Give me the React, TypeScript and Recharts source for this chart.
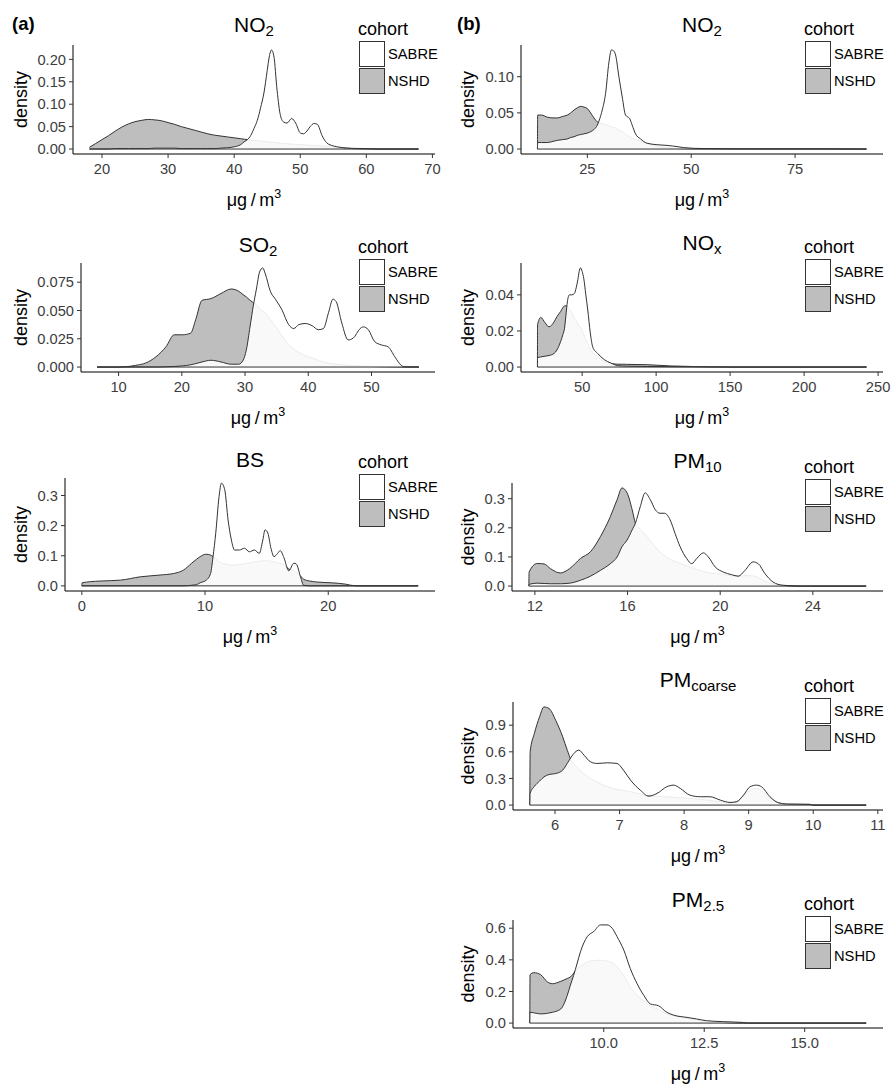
import React from 'react';
import { ComposedChart, Area, XAxis, YAxis, ReferenceLine } from 'recharts';

// ---------- (a) NO2 ----------
const no2aX = [18.1, 19, 20, 21, 22, 23, 24, 25, 26, 27, 28, 29, 30, 31, 32, 33, 34, 35, 36, 37, 38, 39, 40, 41,
  41.5, 42, 42.5, 43, 43.5, 44, 44.5, 45, 45.3, 45.65, 46, 46.5, 47, 47.5, 48,
  48.7, 49.3, 50, 50.5, 51, 51.5, 52.1, 52.6, 53.3, 54, 55, 56, 57, 58, 60, 62, 65, 67.9];
const no2aNSHD = [0.004, 0.012, 0.021, 0.030, 0.040, 0.049, 0.056, 0.061, 0.064, 0.066, 0.065, 0.063, 0.059, 0.055, 0.050, 0.046, 0.042, 0.038, 0.034, 0.031, 0.029, 0.027, 0.025, 0.023,
  0.022, 0.021, 0.020, 0.019, 0.0185, 0.018, 0.017, 0.016, 0.0157, 0.0153, 0.015, 0.014, 0.013, 0.0125, 0.012,
  0.011, 0.0105, 0.010, 0.0095, 0.009, 0.0085, 0.008, 0.0075, 0.007, 0.006, 0.0045, 0.003, 0.002, 0.001, 0.0003, 0, 0, 0];
const no2aSABRE = [0, 0, 0, 0, 0.001, 0.001, 0.001, 0.001, 0.001, 0.001, 0.002, 0.002, 0.002, 0.002, 0.001, 0.001, 0.001, 0.001, 0.001, 0.001, 0.002, 0.003, 0.005, 0.010,
  0.016, 0.021, 0.030, 0.046, 0.064, 0.092, 0.125, 0.175, 0.205, 0.221, 0.208, 0.130, 0.075, 0.060, 0.058,
  0.068, 0.058, 0.036, 0.034, 0.040, 0.050, 0.057, 0.055, 0.030, 0.014, 0.007, 0.004, 0.002, 0.0015, 0.001, 0, 0, 0];

// ---------- (b) NO2 ----------
const no2bX = [13.0, 13.05, 14, 15.4, 17, 17.8, 19, 20.2, 21, 21.8, 22.6, 23.4, 24.2, 25, 25.8, 26.6, 27.4, 28, 28.6, 29.4,
  30.2, 30.8, 31.3, 31.8, 32.6, 33.4, 34.2, 35.2, 35.8, 36.6, 37.8, 39.4, 41.8, 44.2, 45.8, 48.2, 50.6, 55, 60, 70, 80, 92.2];
const no2bNSHD = [0, 0.047, 0.047, 0.044, 0.043, 0.043, 0.045, 0.047, 0.050, 0.054, 0.057, 0.059, 0.058, 0.056, 0.050, 0.043, 0.0375, 0.036, 0.035, 0.034,
  0.032, 0.031, 0.030, 0.029, 0.026, 0.024, 0.020, 0.017, 0.015, 0.013, 0.011, 0.007, 0.004, 0.002, 0.001, 0.0005, 0.0003, 0.0003, 0.0002, 0.0002, 0.0002, 0];
const no2bSABRE = [0, 0.009, 0.009, 0.009, 0.011, 0.012, 0.013, 0.014, 0.016, 0.017, 0.019, 0.020, 0.021, 0.022, 0.024, 0.027, 0.033, 0.042, 0.054, 0.077,
  0.120, 0.137, 0.136, 0.130, 0.100, 0.072, 0.047, 0.042, 0.033, 0.021, 0.014, 0.008, 0.006, 0.005, 0.004, 0.002, 0.001, 0.0005, 0.0003, 0.0002, 0.0002, 0];

// ---------- (a) SO2 ----------
const so2X = [6.6, 10, 11.2, 12.7, 14.3, 15.9, 17.5, 18.8, 20.1, 21.4, 22.2, 23.2, 24.6, 26.2, 27.8, 29.0, 29.7, 30.2, 30.8, 31.3,
  31.8, 32.3, 32.8, 33.2, 34.0, 34.8, 35.8, 36.9, 37.7, 38.5, 39.5, 40.6, 41.6, 42.4, 43.2, 43.9, 44.4, 45.3, 46.3, 47.1,
  48.2, 48.7, 49.5, 50.5, 51.6, 52.6, 53.7, 54.7, 55.2, 57.5];
const so2NSHD = [0, 0, 0.0003, 0.0015, 0.0036, 0.009, 0.018, 0.0285, 0.0285, 0.030, 0.042, 0.059, 0.0605, 0.065, 0.069, 0.067, 0.064, 0.062, 0.059, 0.057,
  0.055, 0.052, 0.049, 0.048, 0.042, 0.036, 0.028, 0.020, 0.016, 0.013, 0.010, 0.008, 0.006, 0.0045, 0.0035, 0.003, 0.0025, 0.002, 0.0015, 0.0012,
  0.0009, 0.0008, 0.0006, 0.0004, 0.0003, 0.0002, 0.0001, 0, 0, 0];
const so2SABRE = [0, 0, 0, 0, 0, 0, 0.0002, 0.0005, 0.001, 0.002, 0.003, 0.0045, 0.006, 0.0045, 0.0025, 0.0025, 0.006, 0.015, 0.036, 0.054,
  0.069, 0.084, 0.0876, 0.0825, 0.067, 0.060, 0.051, 0.0375, 0.034, 0.0375, 0.0385, 0.0366, 0.033, 0.034, 0.048, 0.060, 0.058, 0.039, 0.024, 0.0255,
  0.034, 0.0355, 0.033, 0.0225, 0.0195, 0.018, 0.009, 0.0015, 0.0002, 0];

// ---------- (b) NOx ----------
const noxX = [19.8, 19.85, 22.0, 25, 27.6, 31.0, 33, 35.4, 37, 38.1, 39.2, 40, 41.4, 43, 44.8, 46, 47.1, 48.0, 48.9, 50,
  51.1, 52.5, 53.8, 55.5, 57.2, 60.5, 65, 69.4, 74, 80, 94, 110, 125, 150, 200, 242.2];
const noxNSHD = [0, 0.0233, 0.0275, 0.0245, 0.0223, 0.025, 0.028, 0.0307, 0.033, 0.0339, 0.0339, 0.0335, 0.032, 0.030, 0.027, 0.0255, 0.024, 0.023, 0.022, 0.020,
  0.018, 0.015, 0.013, 0.010, 0.008, 0.0055, 0.003, 0.002, 0.0016, 0.0015, 0.0013, 0.0006, 0.0003, 0, 0, 0];
const noxSABRE = [0, 0.0052, 0.0056, 0.006, 0.0064, 0.0075, 0.0095, 0.014, 0.018, 0.0215, 0.030, 0.036, 0.040, 0.040, 0.0408, 0.044, 0.0484, 0.053, 0.0549, 0.053,
  0.049, 0.040, 0.0316, 0.019, 0.011, 0.0075, 0.0041, 0.0022, 0.0008, 0.0005, 0.0003, 0.0002, 0.0001, 0, 0, 0];

// ---------- (a) BS ----------
const bsX = [0, 0.02, 0.72, 1.5, 3.14, 4.75, 6.36, 7.44, 8.24, 8.91, 9.3, 9.6, 10.1, 10.45, 10.65, 10.87, 11.14, 11.33, 11.6, 11.87,
  12.14, 12.4, 12.8, 13.2, 13.6, 14.0, 14.4, 14.69, 14.87, 15.1, 15.35, 15.6, 15.9, 16.1, 16.4, 16.8, 17.2, 17.4, 17.75, 18.0,
  18.5, 19.0, 20.3, 21.4, 21.8, 22.5, 27.3];
const bsNSHD = [0, 0.010, 0.014, 0.016, 0.019, 0.030, 0.036, 0.041, 0.052, 0.075, 0.088, 0.097, 0.105, 0.102, 0.097, 0.090, 0.080, 0.076, 0.073, 0.071,
  0.069, 0.069, 0.071, 0.073, 0.076, 0.079, 0.082, 0.083, 0.083, 0.083, 0.082, 0.080, 0.077, 0.075, 0.070, 0.056, 0.050, 0.045, 0.033, 0.022,
  0.016, 0.013, 0.010, 0.0057, 0.0023, 0, 0];
const bsSABRE = [0, 0, 0, 0, 0, 0, 0, 0, 0, 0.002, 0.004, 0.010, 0.019, 0.041, 0.097, 0.175, 0.297, 0.341, 0.319, 0.219,
  0.152, 0.119, 0.119, 0.125, 0.113, 0.119, 0.108, 0.152, 0.186, 0.175, 0.125, 0.097, 0.108, 0.117, 0.094, 0.050, 0.075, 0.073, 0.030, 0.002,
  0, 0, 0, 0, 0, 0, 0];

// ---------- (b) PM10 ----------
const pm10X = [11.74, 11.75, 12.1, 12.4, 12.67, 13.1, 13.5, 13.97, 14.4, 14.83, 15.26, 15.55, 15.76, 15.98, 16.2, 16.34, 16.55, 16.76, 16.98, 17.2,
  17.4, 17.6, 17.84, 18.05, 18.27, 18.55, 18.77, 18.99, 19.27, 19.49, 19.78, 20.14, 20.5, 20.78, 21.07, 21.42, 21.64, 21.93, 22.28, 22.7,
  23.5, 26.3];
const pm10NSHD = [0, 0.048, 0.0775, 0.076, 0.060, 0.045, 0.060, 0.095, 0.118, 0.170, 0.239, 0.297, 0.337, 0.320, 0.262, 0.216, 0.195, 0.178, 0.155, 0.135,
  0.118, 0.104, 0.092, 0.085, 0.078, 0.070, 0.063, 0.057, 0.050, 0.046, 0.043, 0.040, 0.035, 0.033, 0.036, 0.035, 0.029, 0.017, 0.007, 0.002,
  0, 0];
const pm10SABRE = [0, 0.006, 0.010, 0.009, 0.008, 0.008, 0.010, 0.020, 0.034, 0.054, 0.077, 0.100, 0.135, 0.158, 0.193, 0.216, 0.273, 0.320, 0.297, 0.262,
  0.250, 0.250, 0.227, 0.181, 0.135, 0.095, 0.077, 0.095, 0.114, 0.100, 0.066, 0.048, 0.039, 0.034, 0.054, 0.083, 0.077, 0.043, 0.014, 0.003,
  0, 0];

// ---------- (b) PMcoarse ----------
const pmcX = [5.61, 5.615, 5.68, 5.76, 5.83, 5.91, 6.01, 6.12, 6.19, 6.25, 6.31, 6.37, 6.45, 6.55, 6.65, 6.81, 6.96, 7.06, 7.17, 7.32,
  7.45, 7.58, 7.73, 7.84, 7.94, 8.09, 8.25, 8.4, 8.56, 8.71, 8.81, 8.92, 9.02, 9.12, 9.2, 9.33, 9.46, 9.59, 9.95, 10.0, 10.82];
const pmcNSHD = [0, 0.60, 0.806, 0.993, 1.106, 1.087, 0.956, 0.768, 0.619, 0.506, 0.45, 0.40, 0.35, 0.30, 0.26, 0.206, 0.175, 0.165, 0.150, 0.125,
  0.100, 0.098, 0.094, 0.088, 0.082, 0.075, 0.064, 0.054, 0.035, 0.025, 0.035, 0.100, 0.170, 0.188, 0.160, 0.080, 0.025, 0.010, 0.008, 0, 0];
const pmcSABRE = [0, 0.131, 0.21, 0.27, 0.318, 0.345, 0.355, 0.394, 0.47, 0.54, 0.595, 0.619, 0.562, 0.487, 0.469, 0.476, 0.469, 0.394, 0.281, 0.169,
  0.101, 0.131, 0.206, 0.225, 0.188, 0.112, 0.094, 0.094, 0.056, 0.030, 0.037, 0.112, 0.206, 0.225, 0.206, 0.094, 0.026, 0.011, 0.008, 0, 0];

// ---------- (b) PM2.5 ----------
const pm25X = [8.16, 8.165, 8.26, 8.43, 8.6, 8.72, 8.93, 9.09, 9.17, 9.25, 9.34, 9.42, 9.59, 9.75, 9.92, 10.08, 10.21, 10.33, 10.5, 10.66,
  10.83, 11.0, 11.16, 11.36, 11.57, 11.73, 12.07, 12.31, 12.56, 12.98, 13.47, 13.6, 16.53];
const pm25NSHD = [0, 0.306, 0.319, 0.306, 0.26, 0.249, 0.264, 0.282, 0.292, 0.315, 0.345, 0.36, 0.387, 0.395, 0.398, 0.392, 0.382, 0.355, 0.30, 0.228,
  0.175, 0.14, 0.11, 0.085, 0.058, 0.047, 0.03, 0.02, 0.009, 0.003, 0, 0, 0];
const pm25SABRE = [0, 0.068, 0.065, 0.058, 0.062, 0.068, 0.089, 0.174, 0.24, 0.302, 0.38, 0.451, 0.547, 0.579, 0.621, 0.621, 0.60, 0.547, 0.461, 0.345,
  0.249, 0.174, 0.121, 0.11, 0.068, 0.051, 0.036, 0.026, 0.015, 0.009, 0.004, 0, 0];

// ---------- tick values ----------
const no2aXTicks = [20, 30, 40, 50, 60, 70];
const no2aYTicks = [0, 0.05, 0.1, 0.15, 0.2];
const no2bXTicks = [25, 50, 75];
const no2bYTicks = [0, 0.05, 0.1];
const so2XTicks = [10, 20, 30, 40, 50];
const so2YTicks = [0, 0.025, 0.05, 0.075];
const noxXTicks = [50, 100, 150, 200, 250];
const noxYTicks = [0, 0.02, 0.04];
const bsXTicks = [0, 10, 20];
const bsYTicks = [0, 0.1, 0.2, 0.3];
const pm10XTicks = [12, 16, 20, 24];
const pm10YTicks = [0, 0.1, 0.2, 0.3];
const pmcXTicks = [6, 7, 8, 9, 10, 11];
const pmcYTicks = [0, 0.3, 0.6, 0.9];
const pm25XTicks = [10, 12.5, 15];
const pm25YTicks = [0, 0.2, 0.4, 0.6];

const cohorts = ['SABRE', 'NSHD'];

const FONT = '"Liberation Sans", Arial, Helvetica, sans-serif';
const GREY = '#bebebe';
const LINE = '#333333';

type PanelCfg = {
  id: string; title: string; sub: string;
  xs: number[]; sabre: number[]; nshd: number[];
  xTicks: number[]; xDec: number; yTicks: number[]; yDec: number;
  L: number; T: number; R: number; B: number; titleY: number; col: number;
};

const panels: PanelCfg[] = [
  { id: 'a1', title: 'NO', sub: '2', xs: no2aX, sabre: no2aSABRE, nshd: no2aNSHD, xTicks: no2aXTicks, xDec: 0, yTicks: no2aYTicks, yDec: 2, L: 73, T: 45, R: 435, B: 154, titleY: 32, col: 0 },
  { id: 'a2', title: 'SO', sub: '2', xs: so2X, sabre: so2SABRE, nshd: so2NSHD, xTicks: so2XTicks, xDec: 0, yTicks: so2YTicks, yDec: 3, L: 81, T: 263, R: 435, B: 372, titleY: 252, col: 0 },
  { id: 'a3', title: 'BS', sub: '', xs: bsX, sabre: bsSABRE, nshd: bsNSHD, xTicks: bsXTicks, xDec: 0, yTicks: bsYTicks, yDec: 1, L: 65, T: 478, R: 435, B: 591, titleY: 467, col: 0 },
  { id: 'b1', title: 'NO', sub: '2', xs: no2bX, sabre: no2bSABRE, nshd: no2bNSHD, xTicks: no2bXTicks, xDec: 0, yTicks: no2bYTicks, yDec: 2, L: 521, T: 45, R: 883, B: 154, titleY: 32, col: 1 },
  { id: 'b2', title: 'NO', sub: 'x', xs: noxX, sabre: noxSABRE, nshd: noxNSHD, xTicks: noxXTicks, xDec: 0, yTicks: noxYTicks, yDec: 2, L: 521, T: 263, R: 883, B: 372, titleY: 250, col: 1 },
  { id: 'b3', title: 'PM', sub: '10', xs: pm10X, sabre: pm10SABRE, nshd: pm10NSHD, xTicks: pm10XTicks, xDec: 0, yTicks: pm10YTicks, yDec: 1, L: 512, T: 483, R: 883, B: 591, titleY: 468, col: 1 },
  { id: 'b4', title: 'PM', sub: 'coarse', xs: pmcX, sabre: pmcSABRE, nshd: pmcNSHD, xTicks: pmcXTicks, xDec: 0, yTicks: pmcYTicks, yDec: 1, L: 513, T: 702, R: 883, B: 810, titleY: 687, col: 1 },
  { id: 'b5', title: 'PM', sub: '2.5', xs: pm25X, sabre: pm25SABRE, nshd: pm25NSHD, xTicks: pm25XTicks, xDec: 1, yTicks: pm25YTicks, yDec: 1, L: 513, T: 920, R: 883, B: 1028, titleY: 907, col: 1 },
];

const YW = 60;
const XH = 30;
const MT = 5;
const MR = 10;

function DensityPanel({ p }: { p: PanelCfg }) {
  const rows = p.xs.map((x, i) => ({ x, sabre: p.sabre[i], nshd: p.nshd[i] }));
  const xmin = p.xs[0];
  const xmax = p.xs[p.xs.length - 1];
  const xpad = 0.05 * (xmax - xmin);
  const ymax = Math.max(...p.sabre, ...p.nshd);
  const left = p.L - YW;
  const top = p.T - MT;
  const width = p.R - left + MR;
  const height = p.B - top + XH;
  const tickStyle = { fill: '#3d3d3d', fontSize: 14.7, fontFamily: FONT };
  return (
    <div style={{ position: 'absolute', left, top, width, height }}>
      <ComposedChart width={width} height={height} data={rows} margin={{ top: MT, right: MR, bottom: 0, left: 0 }}>
        <XAxis
          dataKey="x" type="number" domain={[xmin - xpad, xmax + xpad]} allowDataOverflow
          ticks={p.xTicks} interval={0} tickFormatter={(v: number) => v.toFixed(p.xDec)}
          height={XH} tickSize={4} tickMargin={6}
          axisLine={{ stroke: '#000', strokeWidth: 1 }} tickLine={{ stroke: LINE }} tick={tickStyle}
        />
        <YAxis
          type="number" domain={[-0.05 * ymax, 1.05 * ymax]} allowDataOverflow
          ticks={p.yTicks} interval={0} tickFormatter={(v: number) => v.toFixed(p.yDec)}
          width={YW} tickSize={4} tickMargin={3}
          axisLine={{ stroke: '#000', strokeWidth: 1 }} tickLine={{ stroke: LINE }} tick={tickStyle}
        />
        <Area type="monotone" dataKey="nshd" name="NSHD" stroke={LINE} strokeWidth={1} fill={GREY} fillOpacity={1}
          baseValue={0} dot={false} activeDot={false} isAnimationActive={false} />
        <Area type="monotone" dataKey="sabre" name="SABRE" stroke={LINE} strokeWidth={1} fill="#ffffff" fillOpacity={0.9}
          baseValue={0} dot={false} activeDot={false} isAnimationActive={false} />
        <ReferenceLine segment={[{ x: xmin, y: 0 }, { x: xmax, y: 0 }]} stroke={LINE} strokeWidth={1} />
      </ComposedChart>
    </div>
  );
}

function Overlay() {
  return (
    <svg width={894} height={1086} style={{ position: 'absolute', left: 0, top: 0, pointerEvents: 'none' }}
      fontFamily={FONT}>
      <text x={12} y={29.5} fontSize={18.5} fontWeight="bold" fill="#000">(a)</text>
      <text x={457} y={29.5} fontSize={18.5} fontWeight="bold" fill="#000">(b)</text>
      {panels.map((p) => {
        const cx = (p.L + p.R) / 2;
        const lx = p.col === 0 ? 358 : 804;
        const dx = p.col === 0 ? 21 : 468;
        return (
          <g key={p.id}>
            <text x={cx} y={p.titleY} textAnchor="middle" fontSize={21} fill="#000">
              {p.title}
              {p.sub ? <tspan dy={4} fontSize={15}>{p.sub}</tspan> : null}
            </text>
            <text transform={`translate(${dx},${(p.T + p.B) / 2}) rotate(-90)`} textAnchor="middle" dy="0.35em"
              fontSize={18} fill="#000">density</text>
            <text x={cx} y={p.B + 52} textAnchor="middle" fontSize={18} fill="#000">
              {'\u03bcg\u2009/\u2009m'}
              <tspan dy={-8} fontSize={12.5}>3</tspan>
            </text>
            <text x={lx} y={p.T - 10} fontSize={18} fill="#000">cohort</text>
            <rect x={lx + 1.5} y={p.T - 3.5} width={25} height={25} fill="#ffffff" stroke={LINE} strokeWidth={1} />
            <rect x={lx + 1.5} y={p.T + 23.5} width={25} height={25} fill={GREY} stroke={LINE} strokeWidth={1} />
            <text x={lx + 30} y={p.T + 9} dy="0.35em" fontSize={14.7} fill="#000">{cohorts[0]}</text>
            <text x={lx + 30} y={p.T + 36} dy="0.35em" fontSize={14.7} fill="#000">{cohorts[1]}</text>
          </g>
        );
      })}
    </svg>
  );
}

export default function App() {
  return (
    <div style={{ position: 'absolute', left: 0, top: 0, width: 894, height: 1086, background: '#fff', fontFamily: FONT }}>
      {panels.map((p) => <DensityPanel key={p.id} p={p} />)}
      <Overlay />
    </div>
  );
}
